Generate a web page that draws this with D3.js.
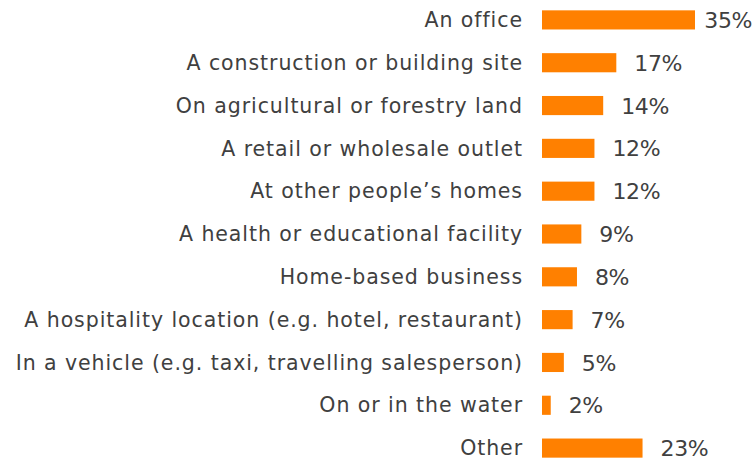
<!DOCTYPE html>
<html>
<head>
<meta charset="utf-8">
<script src="https://cdn.jsdelivr.net/npm/d3@7"></script>
<style>
  body { margin: 0; background: #fff; }
  text { font-family: "DejaVu Sans", sans-serif; fill: #404040; }
</style>
</head>
<body>
<div id="chart"></div>
<script>
// workplace categories, top to bottom
const categories = [
  "An office",
  "A construction or building site",
  "On agricultural or forestry land",
  "A retail or wholesale outlet",
  "At other people\u2019s homes",
  "A health or educational facility",
  "Home-based business",
  "A hospitality location (e.g. hotel, restaurant)",
  "In a vehicle (e.g. taxi, travelling salesperson)",
  "On or in the water",
  "Other"
];
const values = [35, 17, 14, 12, 12, 9, 8, 7, 5, 2, 23];

const width = 756, height = 461;
const svg = d3.select("#chart").append("svg")
  .attr("width", width)
  .attr("height", height);

const x = d3.scaleLinear()
  .domain([0, 35])
  .range([542, 695]);

const y = d3.scaleBand()
  .domain(categories)
  .range([-1.5, 469.5])
  .paddingInner(0.553)
  .paddingOuter(0.2765);

svg.append("g")
  .selectAll("rect")
  .data(values)
  .enter().append("rect")
    .attr("x", x(0))
    .attr("y", (d, i) => y(categories[i]))
    .attr("width", d => x(d) - x(0))
    .attr("height", y.bandwidth())
    .attr("fill", "#ff8000");

svg.append("g")
  .selectAll("text")
  .data(categories)
  .enter().append("text")
    .attr("x", 523)
    .attr("y", d => y(d) + y.bandwidth() / 2)
    .attr("dy", "0.35em")
    .attr("text-anchor", "end")
    .style("font-size", "20.5px")
    .style("letter-spacing", "0.93px")
    .text(d => d);

svg.append("g")
  .selectAll("text")
  .data(values)
  .enter().append("text")
    .attr("y", (d, i) => y(categories[i]) + y.bandwidth() - 1.5)
    .style("font-size", "22px")
    .style("letter-spacing", "-0.4px")
    .text(d => d + "%")
    .each(function(d) {
      const w = this.getComputedTextLength();
      let px = x(d) + 18;
      if (px + w > 752) px = 752 - w;
      d3.select(this).attr("x", px);
    });
</script>
</body>
</html>
